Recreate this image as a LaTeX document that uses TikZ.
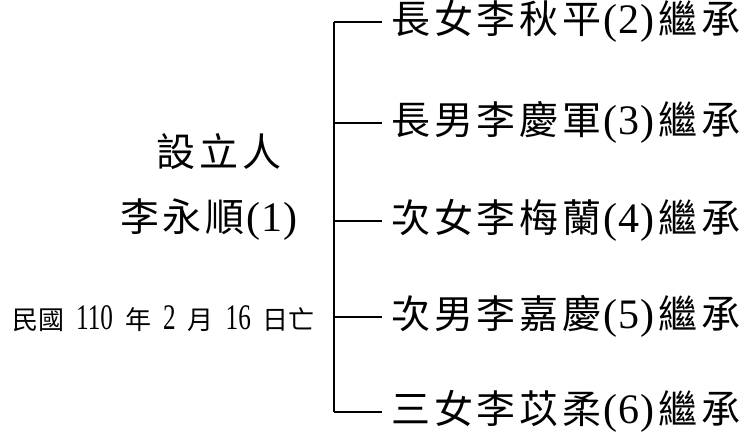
\documentclass[tikz,border=0pt]{standalone}
\usepackage{fontspec}
\setmainfont{Liberation Serif}
\newfontfamily\cjkfont[LetterSpace=10]{Noto Sans CJK TC}
\newfontfamily\cjkdate{Noto Sans CJK TC}
\newfontfamily\numfont{Liberation Serif}
\newfontfamily\numdate[FakeStretch=0.7]{Liberation Serif}
\usetikzlibrary{positioning}

\newcommand{\heirfont}{\fontsize{39pt}{39pt}\cjkfont}
\newcommand{\heirno}[1]{\kern2pt{\fontsize{42pt}{42pt}\numfont(\kern1pt#1\kern1pt)}\kern4pt}
\newcommand{\datefont}{\fontsize{26pt}{26pt}\cjkdate\spaceskip=12pt\relax}
\newcommand{\datenum}[1]{{\fontsize{36pt}{36pt}\numdate #1}}

\begin{document}
\begin{tikzpicture}[x=1pt,y=-1pt,
    heir/.style={anchor=west, inner xsep=9pt, inner ysep=0pt, text height=23.6pt, text depth=0pt, font=\heirfont},
    branch/.style={line width=1.8pt}]

  \useasboundingbox (0,0) rectangle (751,435);

  \def\sx{334};
  \def\tx{382};

  % founder
  \node[anchor=base, font=\heirfont] (title) at (219,167) {設立人};
  \node[anchor=base, font=\heirfont] (founder) at (211,232) {李永順\heirno{1}};
  \node[anchor=base west, inner sep=0pt, font=\datefont] (deathdate) at (12,329)
    {民國 \datenum{110} 年 \datenum{2} 月 \datenum{16} 日亡};

  % heirs
  \coordinate (top) at (\sx,22);
  \coordinate (bot) at (\sx,412);
  \draw[branch] (top) -- (bot);

  \foreach \y/\txt/\name in {22/{長女李秋平\heirno{2}繼承}/h2,
                             123/{長男李慶軍\heirno{3}繼承}/h3,
                             221/{次女李梅蘭\heirno{4}繼承}/h4,
                             317/{次男李嘉慶\heirno{5}繼承}/h5,
                             412/{三女李苡柔\heirno{6}繼承}/h6} {
    \node[heir] (\name) at (\tx,\y) {\txt};
    \draw[branch] (\name.west -| top) -- (\name.west);
  }

\end{tikzpicture}
\end{document}
